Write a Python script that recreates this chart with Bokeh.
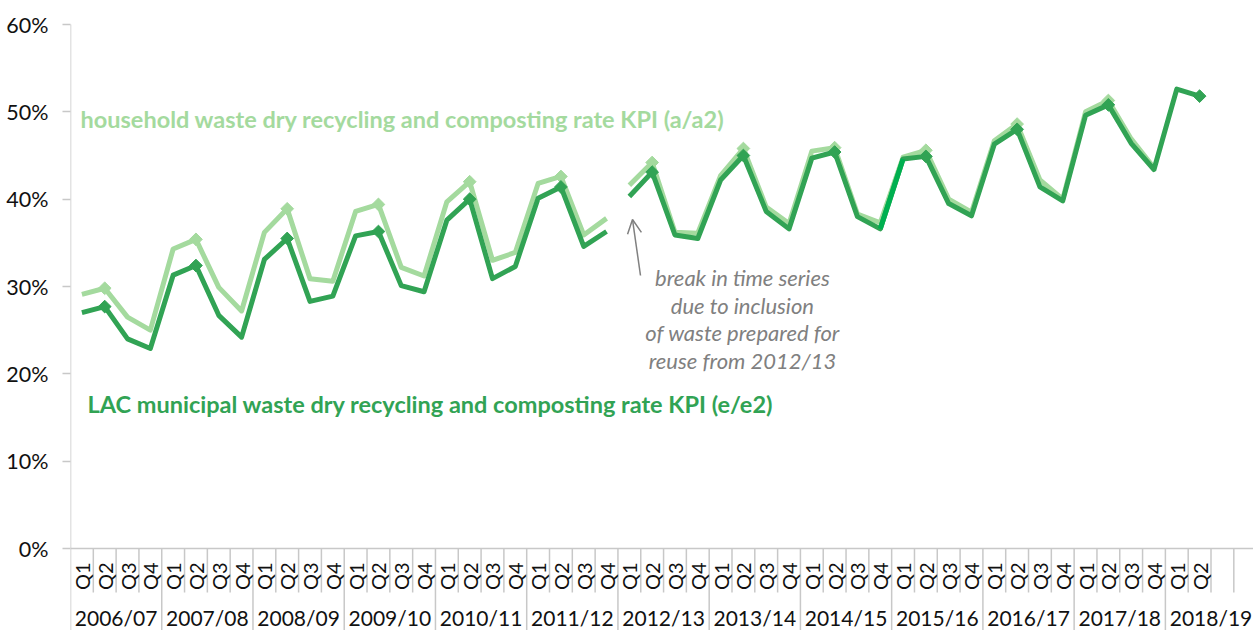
import numpy as np
from bokeh.plotting import figure
from bokeh.models import (Range1d, FixedTicker, PrintfTickFormatter, Label,
                          Arrow, OpenHead)
from bokeh.embed import file_html
from bokeh.resources import INLINE
from bokeh.core.properties import value

# ---------------- data ----------------
years = ["2006/07", "2007/08", "2008/09", "2009/10", "2010/11", "2011/12",
         "2012/13", "2013/14", "2014/15", "2015/16", "2016/17", "2017/18",
         "2018/19"]
quarter_labels = ["Q1", "Q2", "Q3", "Q4"] * 12 + ["Q1", "Q2", "", ""]

household = [29.1, 29.8, 26.5, 25.0,
             34.3, 35.4, 29.9, 27.2,
             36.2, 38.9, 30.9, 30.6,
             38.6, 39.4, 32.2, 31.2,
             39.7, 42.0, 33.0, 33.9,
             41.8, 42.6, 35.9, 37.8,
             41.6, 44.2, 36.2, 36.1,
             42.7, 45.8, 39.1, 37.2,
             45.5, 45.9, 38.3, 37.3,
             44.8, 45.6, 40.0, 38.5,
             46.7, 48.6, 42.2, 40.0,
             50.0, 51.3, 46.9, 43.6,
             np.nan, np.nan]

lac = [27.0, 27.7, 24.0, 22.9,
       31.3, 32.4, 26.7, 24.2,
       33.1, 35.5, 28.3, 28.9,
       35.8, 36.3, 30.1, 29.4,
       37.6, 40.0, 30.9, 32.3,
       40.1, 41.4, 34.6, 36.3,
       40.3, 43.1, 35.9, 35.5,
       42.2, 45.0, 38.6, 36.6,
       44.7, 45.4, 38.0, 36.6,
       44.6, 44.9, 39.5, 38.1,
       46.3, 48.0, 41.4, 39.8,
       49.6, 50.8, 46.4, 43.4,
       52.6, 51.8]

series_break = 24          # first point of 2012/13 (break in time series)
y_ticks = [0, 10, 20, 30, 40, 50, 60]

LIGHT = "#a4da9e"
DARK = "#31a354"
BRIGHT = "#00b050"
GRID = "#c8c8c8"
FONT = "Lato"

# ---------------- figure ----------------
W, H = 1253, 630
left = 70
zero_px = 548
px_per_slot = 22.81
px_per_pct = 8.733
x_end = (W - left) / px_per_slot
y_top = zero_px / px_per_pct
y_bot = -(H - zero_px) / px_per_pct


def ypx(py):
    """convert a vertical pixel position of the frame into data units"""
    return (zero_px - py) / px_per_pct


def xpx(px):
    return (px - left) / px_per_slot


p = figure(width=W, height=H, output_backend="svg", toolbar_location=None,
           x_range=Range1d(0, x_end), y_range=Range1d(y_bot, y_top),
           min_border=0, min_border_left=left)
p.outline_line_color = None
p.grid.visible = False
p.xaxis.visible = False

ya = p.yaxis[0]
ya.ticker = FixedTicker(ticks=y_ticks)
ya.formatter = PrintfTickFormatter(format="%d%%")
ya.axis_line_color = None
ya.major_tick_line_color = GRID
ya.major_tick_line_width = 1.5
ya.major_tick_in = 0
ya.major_tick_out = 8
ya.minor_tick_line_color = None
ya.major_label_standoff = 14
ya.major_label_text_font = FONT
ya.major_label_text_font_size = "21.5px"
ya.major_label_text_color = "#111111"

n_slots = len(quarter_labels)
centers = np.arange(n_slots) + 0.5
bounds = np.arange(n_slots)
is_year = bounds % 4 == 0
q_bottom = ypx(592)

# separators / axis lines
sep_long = bounds[is_year]
sep_short = bounds[~is_year]
p.segment(x0=sep_short, x1=sep_short, y0=[0] * len(sep_short), y1=[q_bottom] * len(sep_short),
          line_color=GRID, line_width=1.5)
p.segment(x0=sep_long, x1=sep_long, y0=[0] * len(sep_long), y1=[y_bot] * len(sep_long),
          line_color=GRID, line_width=1.5)
p.segment(x0=[0], x1=[0], y0=[0], y1=[60], line_color=GRID, line_width=1.5)
p.segment(x0=[0], x1=[x_end], y0=[0], y1=[0], line_color=GRID, line_width=1.5)

# quarter labels
p.text(x=centers, y=[ypx(562)] * n_slots, text=quarter_labels, angle=np.pi / 2,
       text_align="right", text_baseline="middle", text_font=value(FONT),
       text_font_size="20px", text_color="#111111")
# year labels
year_x = [4 * k + 2 for k in range(len(years))]
p.text(x=year_x, y=[ypx(617)] * len(years), text=years,
       text_align="center", text_baseline="middle", text_font=value(FONT),
       text_font_size="21px", text_color="#111111")

# ---------------- series ----------------
x = centers[:len(lac)]
hh = np.array(household)
lc = np.array(lac)
q2 = np.array([q == "Q2" for q in quarter_labels[:len(lac)]])

for a, b in [(0, series_break), (series_break, len(hh))]:
    p.line(x[a:b], hh[a:b], line_color=LIGHT, line_width=5, line_join="round")
p.scatter(x[q2], hh[q2], marker="square", angle=np.pi / 4, size=9,
          fill_color=LIGHT, line_color=LIGHT)

for a, b in [(0, series_break), (series_break, len(lc))]:
    p.line(x[a:b], lc[a:b], line_color=DARK, line_width=5, line_join="round")
p.line(x[35:37], lc[35:37], line_color=BRIGHT, line_width=5)
p.scatter(x[q2], lc[q2], marker="square", angle=np.pi / 4, size=9,
          fill_color=DARK, line_color=DARK)

# ---------------- labels ----------------
p.add_layout(Label(x=xpx(80), y=ypx(118),
                   text="household waste dry recycling and composting rate KPI (a/a2)",
                   text_font=FONT, text_font_style="bold", text_font_size="23.5px",
                   text_color=LIGHT, text_baseline="middle"))
p.add_layout(Label(x=xpx(87), y=ypx(403),
                   text="LAC municipal waste dry recycling and composting rate KPI (e/e2)",
                   text_font=FONT, text_font_style="bold", text_font_size="23.5px",
                   text_color=DARK, text_baseline="middle"))

note = ["break in time series", "due to inclusion", "of waste prepared for",
        "reuse from 2012/13"]
for i, line in enumerate(note):
    p.add_layout(Label(x=xpx(742), y=ypx(277 + 27.7 * i),
                       text=line, text_font=FONT, text_font_style="italic",
                       text_font_size="22px", text_color="#808080",
                       text_align="center", text_baseline="middle"))

p.add_layout(Arrow(x_start=xpx(640), y_start=ypx(275),
                   x_end=xpx(632), y_end=ypx(219),
                   line_color="#808080", line_width=1.5,
                   end=OpenHead(size=14, line_color="#808080", line_width=1.5)))

open("out.html", "w").write(file_html(p, INLINE))
